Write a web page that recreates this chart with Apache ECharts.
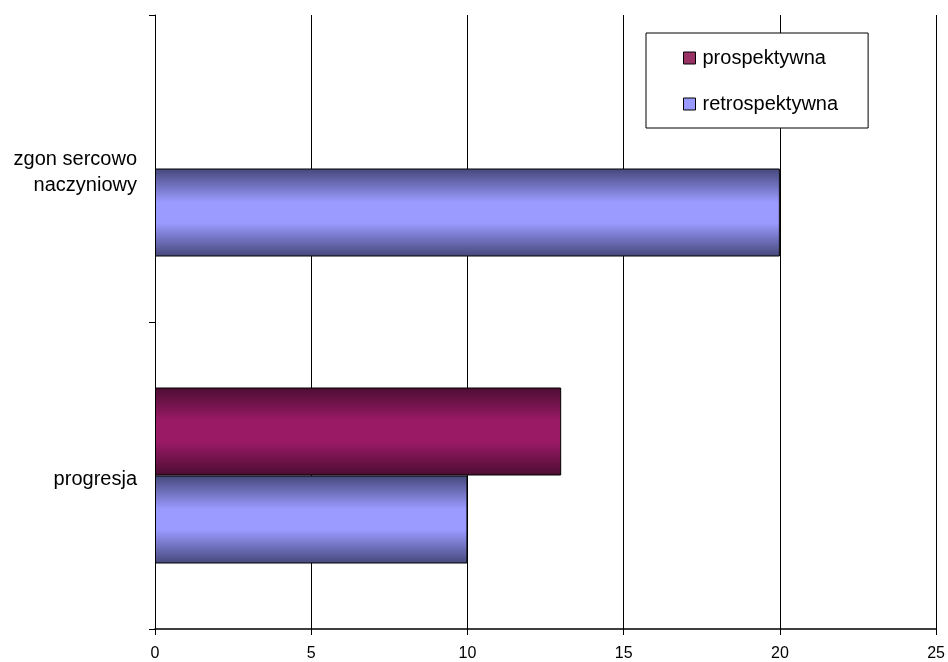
<!DOCTYPE html>
<html><head><meta charset="utf-8">
<script src="https://cdn.jsdelivr.net/npm/echarts@6/dist/echarts.min.js"></script>
<style>html,body{margin:0;padding:0;background:#fff}#c{width:948px;height:662px}</style>
</head><body><div id="c"></div>
<script>
var categories = ['progresja', 'zgon sercowo\nnaczyniowy'];
var seriesNames = ['prospektywna', 'retrospektywna'];
var prospektywna = [13, null];
var retrospektywna = [10, 20];
var xTicks = [0, 5, 10, 15, 20, 25];

function grad(dark, light) {
  return new echarts.graphic.LinearGradient(0, 0, 0, 1, [
    {offset: 0, color: dark},
    {offset: 0.38, color: light},
    {offset: 0.62, color: light},
    {offset: 1, color: dark}
  ]);
}
var chart = echarts.init(document.getElementById('c'), null, {renderer: 'canvas'});
chart.setOption({
  animation: false,
  backgroundColor: '#fff',
  textStyle: {fontFamily: 'Liberation Sans, Arial, sans-serif'},
  grid: {left: 155, right: 10, top: 15, bottom: 33, containLabel: false},
  legend: {
    left: 646, top: 33, orient: 'vertical',
    padding: [15, 30, 14, 37], itemGap: 26,
    borderColor: '#000', borderWidth: 1, backgroundColor: '#fff',
    itemWidth: 12, itemHeight: 12, icon: 'rect',
    textStyle: {fontSize: 20, color: '#000', padding: [0, 0, 0, 2], fontFamily: 'Liberation Sans, Arial, sans-serif'},
    data: [
      {name: seriesNames[0], itemStyle: {color: '#993366', borderColor: '#000', borderWidth: 1}},
      {name: seriesNames[1], itemStyle: {color: '#9999ff', borderColor: '#000', borderWidth: 1}}
    ]
  },
  xAxis: {
    type: 'value', min: xTicks[0], max: xTicks[xTicks.length - 1], interval: 5,
    axisLine: {show: true, lineStyle: {color: '#000', width: 1.5}},
    axisTick: {show: true, length: 6, lineStyle: {color: '#000'}},
    axisLabel: {fontSize: 16, color: '#000', margin: 17},
    splitLine: {show: true, lineStyle: {color: '#000', width: 1}}
  },
  yAxis: {
    type: 'category', data: categories,
    axisLine: {show: true, onZero: false, lineStyle: {color: '#000', width: 1}},
    axisTick: {show: true, length: 6, lineStyle: {color: '#000'}},
    axisLabel: {
      fontSize: 20, color: '#000', margin: 18, align: 'right',
      formatter: function (v) {
        var lines = v.split('\n');
        return lines.map(function (s, i) {
          var tok = i > 0 ? 'n' : (lines.length > 1 ? 'm' : 'f');
          return '{' + tok + '|' + s + '}';
        }).join('\n');
      },
      rich: {
        f: {fontSize: 20, lineHeight: 26, padding: [8, 0, 0, 0], color: '#000', align: 'right'},
        m: {fontSize: 20, lineHeight: 34, padding: [8, 0, 0, 0], color: '#000', align: 'right'},
        n: {fontSize: 20, lineHeight: 26, color: '#000', align: 'right'}
      }
    },
    splitLine: {show: false}
  },
  series: [
    {name: seriesNames[0], type: 'bar', data: prospektywna, barWidth: 88, barGap: '0%',
     itemStyle: {color: grad('#4c0d31', '#9a1a66'), borderColor: '#000', borderWidth: 1}},
    {name: seriesNames[1], type: 'bar', data: retrospektywna, barWidth: 88, barGap: '0%',
     itemStyle: {color: grad('#45477a', '#9a9aff'), borderColor: '#000', borderWidth: 1}}
  ]
});
</script></body></html>
